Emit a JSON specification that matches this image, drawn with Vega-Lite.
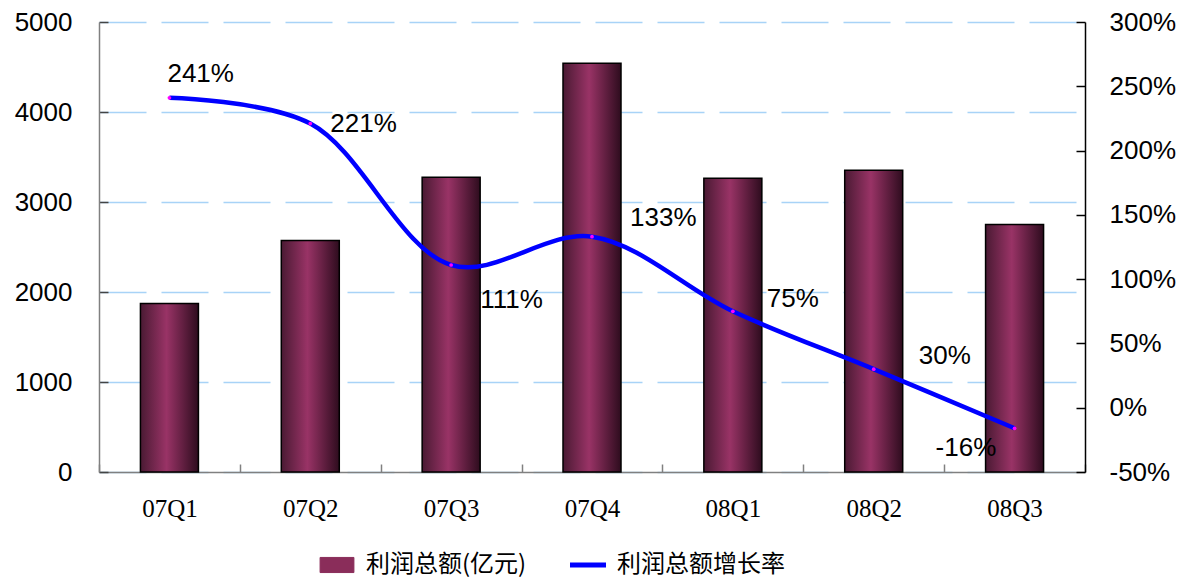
{
  "$schema": "https://vega.github.io/schema/vega-lite/v6.json",
  "width": 986,
  "height": 450,
  "autosize": {"type": "none"},
  "padding": {"left": 99, "top": 22, "right": 114, "bottom": 109},
  "background": "white",
  "config": {"view": {"stroke": null}},
  "data": {
    "values": [
      {"q": "07Q1", "profit": 1871, "growth": 241, "label": "241%"},
      {"q": "07Q2", "profit": 2572, "growth": 221, "label": "221%"},
      {"q": "07Q3", "profit": 3274, "growth": 111, "label": "111%"},
      {"q": "07Q4", "profit": 4543, "growth": 133, "label": "133%"},
      {"q": "08Q1", "profit": 3263, "growth": 75, "label": "75%"},
      {"q": "08Q2", "profit": 3352, "growth": 30, "label": "30%"},
      {"q": "08Q3", "profit": 2751, "growth": -16, "label": "-16%"}
    ]
  },
  "encoding": {
    "x": {
      "field": "q",
      "type": "nominal",
      "sort": null,
      "scale": {"paddingInner": 0, "paddingOuter": 0},
      "axis": {
        "title": null,
        "labelFont": "Liberation Serif",
        "labelFontSize": 25,
        "labelAngle": 0,
        "labelColor": "black",
        "tickBand": "extent",
        "tickSize": -8,
        "tickColor": "#808080",
        "tickWidth": 1.5,
        "domainColor": "#808080",
        "domainWidth": 1.5,
        "labelPadding": 32
      }
    }
  },
  "layer": [
    {
      "encoding": {
        "y": {
          "field": "profit",
          "type": "quantitative",
          "scale": {"domain": [0, 5000], "nice": false},
          "axis": {
            "title": null,
            "values": [0, 1000, 2000, 3000, 4000, 5000],
            "format": "d",
            "labelFont": "Liberation Sans",
            "labelFontSize": 26,
            "labelColor": "black",
            "tickSize": -9,
            "tickColor": "#444444",
            "tickWidth": 1.5,
            "domainColor": "#808080",
            "domainWidth": 1.5,
            "labelPadding": 36,
            "grid": true,
            "gridColor": "#A8D3F7",
            "gridDash": [47, 15],
            "gridWidth": 1.5
          }
        }
      },
      "layer": [
        {
          "mark": {"type": "bar", "size": 58},
          "encoding": {
            "color": {
              "datum": "利润总额(亿元)",
              "scale": {
                "domain": ["利润总额(亿元)", "利润总额增长率"],
                "range": ["#8a2d5a", "#0000FF"]
              },
              "legend": {
                "title": null,
                "orient": "none",
                "legendX": 226,
                "legendY": 531,
                "direction": "horizontal",
                "padding": 0,
                "labelFont": "Noto Sans CJK SC",
                "labelFontSize": 24,
                "labelColor": "black",
                "labelLimit": 400,
                "labelOffset": 17,
                "columnPadding": 33,
                "symbolSize": 1296,
                "encode": {
                  "symbols": {
                    "update": {
                      "shape": {"signal": "datum.value === '利润总额增长率' ? 'stroke' : 'M-0.94,-0.42H0.94V0.42H-0.94Z'"},
                      "stroke": {"signal": "datum.value === '利润总额增长率' ? '#0000FF' : '#222222'"},
                      "strokeWidth": {"signal": "datum.value === '利润总额增长率' ? 5 : 1"},
                      "opacity": {"value": 1}
                    }
                  }
                }
              }
            }
          }
        },
        {
          "mark": {
            "type": "bar",
            "size": 58,
            "fill": {
              "gradient": "linear",
              "x1": 0, "y1": 0, "x2": 1, "y2": 0,
              "stops": [
                {"offset": 0, "color": "#4a1a33"},
                {"offset": 0.45, "color": "#993366"},
                {"offset": 1, "color": "#2e0c1e"}
              ]
            },
            "stroke": "black",
            "strokeWidth": 1.5
          }
        }
      ]
    },
    {
      "encoding": {
        "y": {
          "field": "growth",
          "type": "quantitative",
          "scale": {"domain": [-50, 300], "nice": false},
          "axis": {
            "orient": "right",
            "title": null,
            "values": [-50, 0, 50, 100, 150, 200, 250, 300],
            "labelExpr": "datum.value + '%'",
            "labelFont": "Liberation Sans",
            "labelFontSize": 26,
            "labelColor": "black",
            "tickSize": -9,
            "tickColor": "black",
            "tickWidth": 1.5,
            "domainColor": "black",
            "domainWidth": 1.5,
            "labelPadding": 33,
            "grid": false
          }
        }
      },
      "layer": [
        {
          "mark": {"type": "line", "interpolate": "catmull-rom", "strokeWidth": 4.5},
          "encoding": {"color": {"datum": "利润总额增长率"}}
        },
        {
          "mark": {"type": "point", "filled": true, "color": "#FF00FF", "size": 14, "opacity": 1}
        },
        {
          "transform": [{"filter": "datum.q === '07Q1'"}],
          "mark": {"type": "text", "align": "left", "baseline": "middle", "dx": -2, "dy": -24, "font": "Liberation Sans", "fontSize": 26, "color": "black"},
          "encoding": {"text": {"field": "label"}}
        },
        {
          "transform": [{"filter": "datum.q === '07Q2'"}],
          "mark": {"type": "text", "align": "left", "baseline": "middle", "dx": 20, "dy": 0, "font": "Liberation Sans", "fontSize": 26, "color": "black"},
          "encoding": {"text": {"field": "label"}}
        },
        {
          "transform": [{"filter": "datum.q === '07Q3'"}],
          "mark": {"type": "text", "align": "left", "baseline": "middle", "dx": 29, "dy": 35, "font": "Liberation Sans", "fontSize": 26, "color": "black"},
          "encoding": {"text": {"field": "label"}}
        },
        {
          "transform": [{"filter": "datum.q === '07Q4'"}],
          "mark": {"type": "text", "align": "left", "baseline": "middle", "dx": 38, "dy": -19, "font": "Liberation Sans", "fontSize": 26, "color": "black"},
          "encoding": {"text": {"field": "label"}}
        },
        {
          "transform": [{"filter": "datum.q === '08Q1'"}],
          "mark": {"type": "text", "align": "left", "baseline": "middle", "dx": 34, "dy": -12, "font": "Liberation Sans", "fontSize": 26, "color": "black"},
          "encoding": {"text": {"field": "label"}}
        },
        {
          "transform": [{"filter": "datum.q === '08Q2'"}],
          "mark": {"type": "text", "align": "left", "baseline": "middle", "dx": 45, "dy": -13, "font": "Liberation Sans", "fontSize": 26, "color": "black"},
          "encoding": {"text": {"field": "label"}}
        },
        {
          "transform": [{"filter": "datum.q === '08Q3'"}],
          "mark": {"type": "text", "align": "left", "baseline": "middle", "dx": -79, "dy": 20, "font": "Liberation Sans", "fontSize": 26, "color": "black"},
          "encoding": {"text": {"field": "label"}}
        }
      ]
    }
  ],
  "resolve": {"scale": {"y": "independent"}}
}
